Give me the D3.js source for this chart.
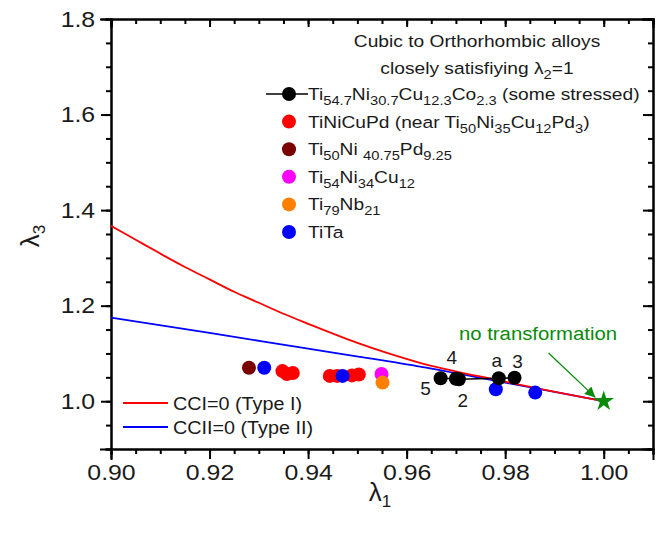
<!DOCTYPE html>
<html>
<head>
  <meta charset="utf-8">
  <title>lambda chart</title>
  <script src="https://d3js.org/d3.v7.min.js"></script>
  <style>
    body { margin: 0; background: #fff; }
    text { font-family: "Liberation Sans", Arial, sans-serif; fill: #1a1a1a; }
    .axis path, .axis line { stroke: #000; stroke-width: 2; }
    .axis text { font-size: 22px; fill: #1a1a1a; }
  </style>
</head>
<body>
<svg id="chart"></svg>
<script>
  // --- data ---
  const xTicks = [0.90, 0.92, 0.94, 0.96, 0.98, 1.00];
  const yTicks = [1.0, 1.2, 1.4, 1.6, 1.8];

  // CCI=0 (Type I) curve
  const cciX = [0.900, 0.905, 0.910, 0.915, 0.920, 0.925, 0.930, 0.935, 0.940, 0.950, 0.9625, 0.979, 1.000];
  const cciY = [1.367, 1.338, 1.309, 1.281, 1.255, 1.229, 1.206, 1.183, 1.162, 1.122, 1.081, 1.043, 1.000];
  // CCII=0 (Type II) curve
  const cciiX = [0.900, 0.920, 0.940, 0.9505, 0.963, 0.979, 1.000];
  const cciiY = [1.175, 1.143, 1.110, 1.093, 1.072, 1.041, 1.000];

  // alloys
  const tiNiCuCoX = [0.9669, 0.9700, 0.9706, 0.9787, 0.9819];
  const tiNiCuCoY = [1.048, 1.047, 1.046, 1.048, 1.049];
  const tiNiCuCoLabels = ["5", "4", "2", "a", "3"];
  const tiNiCuPdX = [0.9348, 0.9357, 0.9369, 0.9444, 0.9459, 0.9489, 0.9503];
  const tiNiCuPdY = [1.063, 1.057, 1.059, 1.053, 1.053, 1.054, 1.056];
  const tiNiPdX = [0.928];
  const tiNiPdY = [1.070];
  const tiNiCuX = [0.9549];
  const tiNiCuY = [1.057];
  const tiNbX = [0.9551];
  const tiNbY = [1.039];
  const tiTaX = [0.9311, 0.9470, 0.9781, 0.9861];
  const tiTaY = [1.070, 1.053, 1.025, 1.018];

  const legendNames = [
    "Ti_{54.7}Ni_{30.7}Cu_{12.3}Co_{2.3} (some stressed)",
    "TiNiCuPd (near Ti_{50}Ni_{35}Cu_{12}Pd_{3})",
    "Ti_{50}Ni _{40.75}Pd_{9.25}",
    "Ti_{54}Ni_{34}Cu_{12}",
    "Ti_{79}Nb_{21}",
    "TiTa"
  ];
  const legendColors = ["#000000", "#ff0000", "#7a0000", "#ff00ff", "#ff8000", "#0000ff"];

  // --- layout ---
  const W = 666, H = 535;
  const margin = { top: 19, right: 13, bottom: 86, left: 111 };
  const width = W - margin.left - margin.right;
  const height = H - margin.top - margin.bottom;
  const SX = 1.13; // text in the figure is a bit wider than Arial

  const svg = d3.select("#chart").attr("width", W).attr("height", H);
  const chart = svg.append("g")
    .attr("transform", `translate(${margin.left}, ${margin.top})`);

  const x = d3.scaleLinear().domain([0.9, 1.01]).range([0, width]);
  const y = d3.scaleLinear().domain([0.9, 1.8]).range([height, 0]);

  const xMinor = d3.range(0, 23).map(i => 0.9 + i * 0.005);
  const yMinor = d3.range(0, 19).map(i => 0.9 + i * 0.05);

  // minor ticks
  chart.append("g").attr("class", "axis")
    .attr("transform", `translate(0, ${height})`)
    .call(d3.axisBottom(x).tickValues(xMinor).tickSize(5).tickFormat(""));
  chart.append("g").attr("class", "axis")
    .call(d3.axisBottom(x).tickValues(xMinor).tickSize(5).tickFormat(""));
  chart.append("g").attr("class", "axis")
    .call(d3.axisLeft(y).tickValues(yMinor).tickSize(5).tickFormat(""));
  chart.append("g").attr("class", "axis")
    .attr("transform", `translate(${width}, 0)`)
    .call(d3.axisLeft(y).tickValues(yMinor).tickSize(5).tickFormat(""));

  // major ticks
  chart.append("g").attr("class", "axis")
    .attr("transform", `translate(0, ${height})`)
    .call(d3.axisBottom(x).tickValues(xTicks).tickSize(10).tickPadding(5).tickFormat(d3.format(".2f")))
    .selectAll("text").attr("transform", `scale(${SX},1)`);
  chart.append("g").attr("class", "axis")
    .call(d3.axisBottom(x).tickValues(xTicks).tickSize(8).tickFormat(""));
  chart.append("g").attr("class", "axis")
    .call(d3.axisLeft(y).tickValues(yTicks).tickSize(10).tickPadding(4).tickFormat(d3.format(".1f")))
    .selectAll("text").attr("transform", `scale(${SX},1)`);
  chart.append("g").attr("class", "axis")
    .attr("transform", `translate(${width}, 0)`)
    .call(d3.axisLeft(y).tickValues(yTicks).tickSize(10).tickFormat(""));

  chart.selectAll(".axis path").attr("stroke-linecap", "square");

  // axis titles
  svg.append("text")
    .attr("x", 380)
    .attr("y", 501)
    .attr("text-anchor", "middle")
    .style("font-size", "26px")
    .html('λ<tspan font-size="17" dy="6">1</tspan>');
  svg.append("text")
    .attr("transform", "translate(39, 236) rotate(-90)")
    .attr("text-anchor", "middle")
    .style("font-size", "26px")
    .html('λ<tspan font-size="17" dy="6">3</tspan>');

  // curves
  const line = d3.line()
    .x(d => x(d[0]))
    .y(d => y(d[1]))
    .curve(d3.curveMonotoneX);

  chart.append("path")
    .datum(cciiX.map((v, i) => [v, cciiY[i]]))
    .attr("d", line)
    .attr("fill", "none")
    .attr("stroke", "#0000ff")
    .attr("stroke-width", 1.8);
  chart.append("path")
    .datum(cciX.map((v, i) => [v, cciY[i]]))
    .attr("d", line)
    .attr("fill", "none")
    .attr("stroke", "#ff0000")
    .attr("stroke-width", 1.8);

  // scatter series
  const R = 7;
  function dots(xs, ys, color) {
    chart.selectAll(null)
      .data(xs.map((v, i) => [v, ys[i]]))
      .enter()
      .append("circle")
      .attr("cx", d => x(d[0]))
      .attr("cy", d => y(d[1]))
      .attr("r", R)
      .attr("fill", color);
  }
  dots(tiNiPdX, tiNiPdY, legendColors[2]);
  dots(tiNiCuPdX, tiNiCuPdY, legendColors[1]);
  dots(tiTaX, tiTaY, legendColors[5]);
  dots(tiNiCuX, tiNiCuY, legendColors[3]);
  dots(tiNbX, tiNbY, legendColors[4]);

  chart.append("path")
    .datum(tiNiCuCoX.map((v, i) => [v, tiNiCuCoY[i]]))
    .attr("d", d3.line().x(d => x(d[0])).y(d => y(d[1])))
    .attr("fill", "none")
    .attr("stroke", "#000")
    .attr("stroke-width", 1.5);
  dots(tiNiCuCoX, tiNiCuCoY, legendColors[0]);

  // point labels for the black series
  const labelOffsets = [[-15, 12], [-4, -20], [4, 23], [-2, -16], [3, -15]];
  chart.selectAll(null)
    .data(tiNiCuCoLabels)
    .enter()
    .append("text")
    .attr("x", (d, i) => x(tiNiCuCoX[i]) + labelOffsets[i][0])
    .attr("y", (d, i) => y(tiNiCuCoY[i]) + labelOffsets[i][1])
    .attr("text-anchor", "middle")
    .attr("dominant-baseline", "middle")
    .style("font-size", "19px")
    .text(d => d);

  // no transformation star
  const green = "#0a8a0a";
  chart.append("path")
    .attr("d", d3.symbol().type(d3.symbolStar).size(130)())
    .attr("transform", `translate(${x(1.0)}, ${y(1.0)})`)
    .attr("fill", green);

  svg.append("defs").append("marker")
    .attr("id", "arrow")
    .attr("viewBox", "0 0 10 10")
    .attr("refX", 10).attr("refY", 5)
    .attr("markerWidth", 9).attr("markerHeight", 8)
    .attr("orient", "auto")
    .append("path")
    .attr("d", "M0,0 L10,5 L0,10 z")
    .attr("fill", green);

  chart.append("line")
    .attr("x1", x(0.9888)).attr("y1", y(1.101))
    .attr("x2", x(0.9983)).attr("y2", y(1.008))
    .attr("stroke", green)
    .attr("stroke-width", 1.3)
    .attr("marker-end", "url(#arrow)");

  svg.append("g")
    .attr("transform", `translate(538, 340) scale(${SX},1)`)
    .append("text")
    .attr("text-anchor", "middle")
    .style("font-size", "18px")
    .style("fill", green)
    .text("no transformation");

  // legend (upper right)
  // "_{...}" marks a subscript
  function richText(sel, str) {
    const parts = str.split(/(_\{[^}]*\})/).filter(s => s.length);
    let down = false;
    parts.forEach(p => {
      if (p.startsWith("_{")) {
        sel.append("tspan").attr("font-size", "13px").attr("dy", 5).text(p.slice(2, -1));
        down = true;
      } else {
        const t = sel.append("tspan").text(p);
        if (down) t.attr("dy", -5);
        down = false;
      }
    });
  }
  function scaledText(px, py, size, anchor) {
    return svg.append("g")
      .attr("transform", `translate(${px}, ${py}) scale(${SX},1)`)
      .append("text")
      .attr("text-anchor", anchor)
      .style("font-size", size + "px");
  }

  scaledText(477, 47, 17, "middle").text("Cubic to Orthorhombic alloys");
  richText(scaledText(477, 74, 17, "middle"), "closely satisfiying λ_{2}=1");

  const legendY = d3.scalePoint().domain(d3.range(legendNames.length)).range([94, 232]);
  legendNames.forEach((name, i) => {
    const cy = legendY(i);
    if (i === 0) {
      svg.append("line")
        .attr("x1", 266).attr("x2", 308)
        .attr("y1", cy).attr("y2", cy)
        .attr("stroke", "#000").attr("stroke-width", 1.5);
    }
    svg.append("circle")
      .attr("cx", 289).attr("cy", cy).attr("r", R)
      .attr("fill", legendColors[i]);
    richText(scaledText(308, cy + 6, 17, "start"), name);
  });

  // legend (lower left)
  const lineLegend = [["CCI=0 (Type I)", "#ff0000"], ["CCII=0 (Type II)", "#0000ff"]];
  lineLegend.forEach((d, i) => {
    const ly = 403 + i * 24;
    svg.append("line")
      .attr("x1", 123).attr("x2", 168)
      .attr("y1", ly).attr("y2", ly)
      .attr("stroke", d[1]).attr("stroke-width", 1.8);
    scaledText(173, ly + 6.5, 17.5, "start").text(d[0]);
  });
</script>
</body>
</html>
